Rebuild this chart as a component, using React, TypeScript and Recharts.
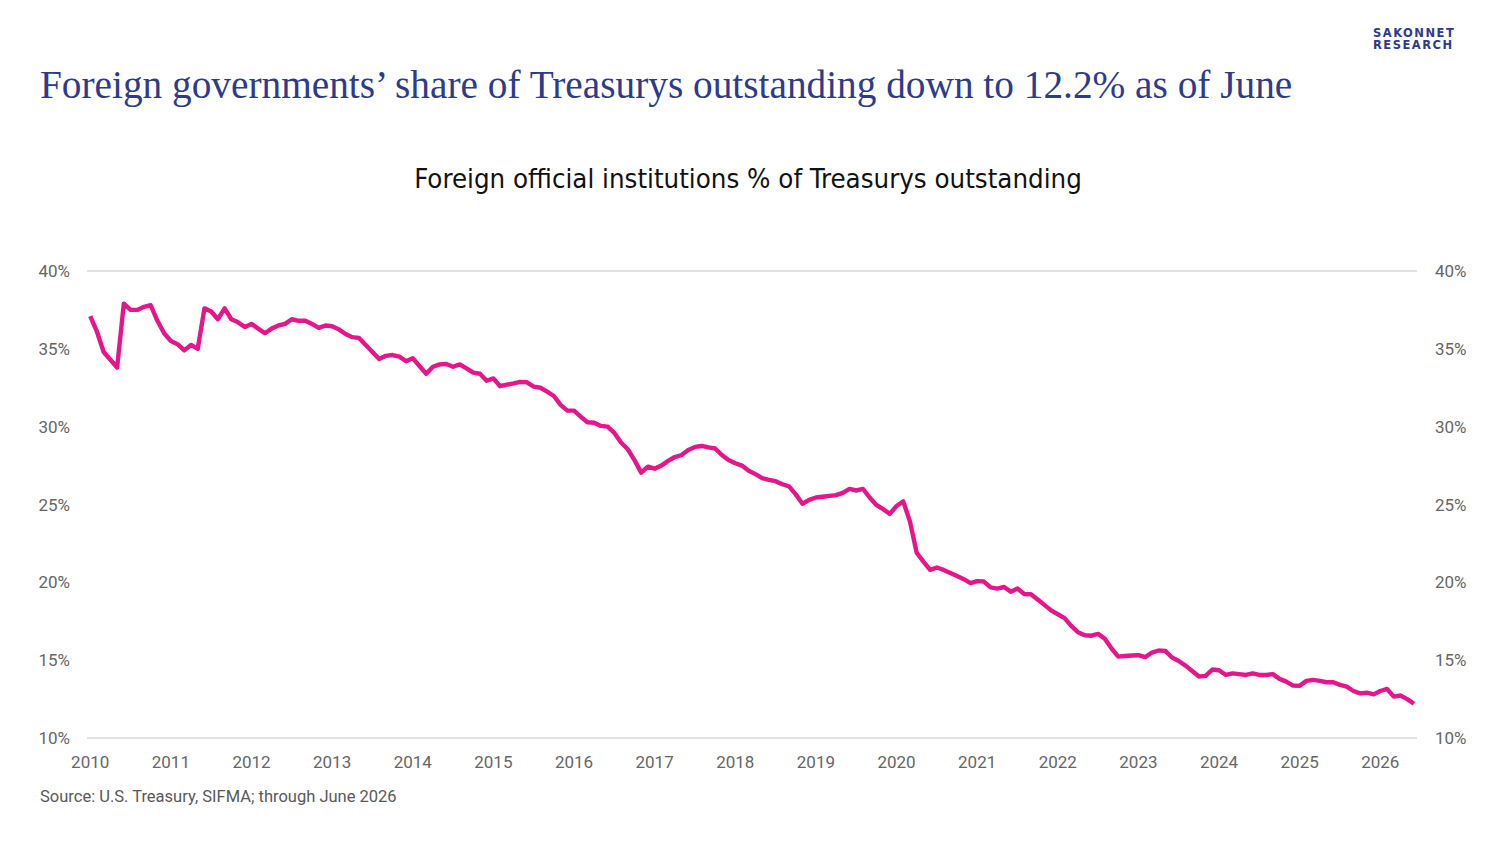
import { LineChart, Line, XAxis, YAxis, CartesianGrid } from 'recharts'

// monthly share (%) of Treasurys outstanding held by foreign official institutions
const y2010 = [37.1, 36.1, 34.8, 34.3, 33.8, 37.9, 37.5, 37.5, 37.7, 37.8, 36.8, 36.0]
const y2011 = [35.5, 35.3, 34.9, 35.25, 35.0, 37.6, 37.4, 36.9, 37.6, 36.9, 36.7, 36.4]
const y2012 = [36.6, 36.3, 36.0, 36.3, 36.5, 36.6, 36.9, 36.8, 36.8, 36.6, 36.35, 36.5]
const y2013 = [36.45, 36.25, 35.95, 35.75, 35.7, 35.25, 34.8, 34.35, 34.55, 34.6, 34.5, 34.2]
const y2014 = [34.4, 33.9, 33.4, 33.85, 34.0, 34.03, 33.85, 34.0, 33.75, 33.47, 33.4, 32.95]
const y2015 = [33.1, 32.6, 32.7, 32.78, 32.88, 32.85, 32.57, 32.5, 32.25, 31.97, 31.4, 31.03]
const y2016 = [31.03, 30.64, 30.28, 30.25, 30.05, 30.0, 29.6, 28.98, 28.55, 27.85, 27.05, 27.43]
const y2017 = [27.3, 27.5, 27.8, 28.05, 28.18, 28.5, 28.7, 28.76, 28.67, 28.6, 28.18, 27.86]
const y2018 = [27.65, 27.5, 27.17, 26.95, 26.7, 26.58, 26.5, 26.3, 26.17, 25.65, 25.05, 25.3]
const y2019 = [25.45, 25.5, 25.55, 25.6, 25.75, 26.0, 25.9, 26.0, 25.45, 24.97, 24.7, 24.4]
const y2020 = [24.9, 25.2, 23.9, 21.9, 21.33, 20.8, 20.95, 20.8, 20.6, 20.4, 20.2, 19.95]
const y2021 = [20.08, 20.05, 19.68, 19.6, 19.7, 19.4, 19.6, 19.25, 19.23, 18.9, 18.55, 18.2]
const y2022 = [17.95, 17.7, 17.2, 16.8, 16.6, 16.57, 16.69, 16.37, 15.75, 15.23, 15.27, 15.3]
const y2023 = [15.32, 15.19, 15.49, 15.62, 15.6, 15.17, 14.95, 14.65, 14.3, 13.95, 13.99, 14.4]
const y2024 = [14.35, 14.05, 14.15, 14.1, 14.05, 14.15, 14.05, 14.05, 14.1, 13.8, 13.62, 13.37]
const y2025 = [13.35, 13.67, 13.73, 13.67, 13.58, 13.58, 13.41, 13.3, 13.02, 12.87, 12.91, 12.8]
const y2026 = [13.02, 13.15, 12.66, 12.73, 12.5, 12.2]

const years = [2010, 2011, 2012, 2013, 2014, 2015, 2016, 2017, 2018, 2019, 2020, 2021, 2022, 2023, 2024, 2025, 2026]
const yearValues = [y2010, y2011, y2012, y2013, y2014, y2015, y2016, y2017, y2018, y2019, y2020, y2021, y2022, y2023, y2024, y2025, y2026]
const pctTicks = [10, 15, 20, 25, 30, 35, 40]

const data = yearValues.flatMap((vals, yi) =>
  vals.map((v, m) => ({ t: years[yi] + m / 12, share: v }))
)

const tickStyle = { fontSize: 17, fill: '#666666', fontFamily: 'Roboto, "Liberation Sans", sans-serif' }

export default function App() {
  return (
    <div
      style={{
        position: 'absolute',
        left: 0,
        top: 0,
        width: 1500,
        height: 844,
        background: '#ffffff',
        overflow: 'hidden',
      }}
    >
      <div
        style={{
          position: 'absolute',
          left: 40,
          top: 60,
          fontFamily: '"Liberation Serif", "DejaVu Serif", serif',
          fontSize: 39.3,
          color: '#2e3a8a',
          whiteSpace: 'nowrap',
          lineHeight: '50px',
        }}
      >
        Foreign governments’ share of Treasurys outstanding down to 12.2% as of June
      </div>
      <div
        style={{
          position: 'absolute',
          left: 1373,
          top: 28,
          fontFamily: '"DejaVu Sans", sans-serif',
          fontWeight: 700,
          fontSize: 11.5,
          lineHeight: '11.5px',
          letterSpacing: 1.5,
          color: '#2e3a8a',
        }}
      >
        SAKONNET
        <br />
        RESEARCH
      </div>
      <div
        style={{
          position: 'absolute',
          left: 0,
          width: 1500,
          top: 162,
          textAlign: 'center',
          fontFamily: '"Liberation Sans Narrow", "DejaVu Sans Condensed", "Roboto Condensed", sans-serif',
          fontSize: 27.4,
          lineHeight: '34px',
          color: '#111111',
          whiteSpace: 'nowrap',
        }}
      >
        <span style={{ position: 'relative', left: -2 }}>Foreign official institutions % of Treasurys outstanding</span>
      </div>
      <div style={{ position: 'absolute', left: 0, top: 0 }}>
        <LineChart width={1500} height={844} data={data} margin={{ top: 271, right: 23, left: 27, bottom: 76 }}>
          <CartesianGrid vertical={false} stroke="#d9d9d9" strokeWidth={1.5} />
          <XAxis
            dataKey="t"
            type="number"
            domain={[2009.96, 2026.455]}
            ticks={years}
            interval={0}
            axisLine={false}
            tickLine={false}
            tickSize={0}
            tickMargin={18}
            height={30}
            tick={tickStyle}
          />
          <YAxis
            yAxisId="left"
            domain={[10, 40]}
            ticks={pctTicks}
            interval={0}
            axisLine={false}
            tickLine={false}
            tickSize={0}
            tickMargin={17}
            width={60}
            tick={tickStyle}
            tickFormatter={(v: number) => `${v}%`}
          />
          <YAxis
            yAxisId="right"
            orientation="right"
            domain={[10, 40]}
            ticks={pctTicks}
            interval={0}
            axisLine={false}
            tickLine={false}
            tickSize={0}
            tickMargin={18}
            width={60}
            tick={tickStyle}
            tickFormatter={(v: number) => `${v}%`}
          />
          <Line
            yAxisId="left"
            type="linear"
            dataKey="share"
            stroke="#e5168b"
            strokeWidth={4.4}
            strokeLinejoin="round"
            dot={false}
            isAnimationActive={false}
          />
          <Line
            yAxisId="right"
            type="linear"
            dataKey="share"
            stroke="none"
            dot={false}
            legendType="none"
            isAnimationActive={false}
          />
        </LineChart>
      </div>
      <div
        style={{
          position: 'absolute',
          left: 40,
          top: 786,
          fontFamily: 'Roboto, "Liberation Sans", sans-serif',
          fontSize: 16.5,
          lineHeight: '22px',
          color: '#595959',
          whiteSpace: 'nowrap',
        }}
      >
        Source: U.S. Treasury, SIFMA; through June 2026
      </div>
    </div>
  )
}
